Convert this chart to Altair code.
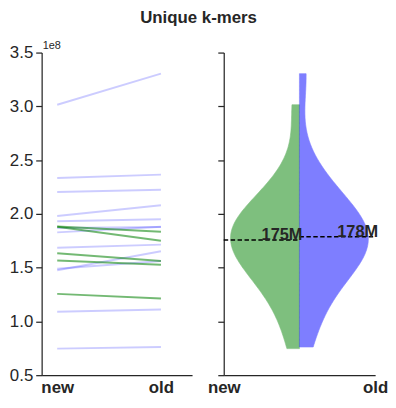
import altair as alt
import numpy as np
import pandas as pd

# Unique k-mers per sample, in millions, for the "new" and "old" runs (paired)
new_m = [301.5, 233.4, 220.3, 198.1, 193.2, 186.8, 182.8, 168.4, 147.5, 149.0,
         109.0, 74.7, 188.3, 188.0, 163.4, 156.7, 125.6]
old_m = [330.4, 236.5, 222.4, 208.0, 195.1, 187.7, 188.0, 171.4, 165.3, 156.1,
         111.0, 76.2, 183.4, 175.1, 156.1, 152.8, 121.3]
groups = ["new", "old"]
y_ticks = [0.5e8, 1.0e8, 1.5e8, 2.0e8, 2.5e8, 3.0e8, 3.5e8]

GREEN = "#008000"
BLUE = "#0000ff"
INK = "#262626"
FONT = "Liberation Sans"

rows = []
for i, (a, b) in enumerate(zip(new_m, old_m)):
    direction = "up" if b >= a else "down"
    rows.append({"id": i, "group": "new", "pos": 0, "value": a * 1e6, "dir": direction})
    rows.append({"id": i, "group": "old", "pos": 1, "value": b * 1e6, "dir": direction})
long_df = pd.DataFrame(rows)

yscale = alt.Scale(domain=[0.5e8, 3.5e8], nice=False, zero=False)
H = 326

# ---------------- left panel: paired slopes ----------------
lines = alt.Chart(long_df).mark_line(strokeWidth=2).encode(
    x=alt.X("pos:Q", scale=alt.Scale(domain=[-0.15, 1.3], nice=False),
            axis=alt.Axis(values=[0, 1], labelExpr="datum.value == 0 ? 'new' : 'old'",
                          title=None, labelFontWeight="bold", labelFontSize=17,
                          labelPadding=4, tickSize=0)),
    y=alt.Y("value:Q", scale=yscale,
            axis=alt.Axis(values=y_ticks, labelExpr="format(datum.value / 1e8, '.1f')",
                          title=None, labelFontSize=17, labelPadding=3)),
    detail="id:N",
    color=alt.Color("dir:N", scale=alt.Scale(domain=["up", "down"], range=[BLUE, GREEN]), legend=None),
    opacity=alt.Opacity("dir:N", scale=alt.Scale(domain=["up", "down"], range=[0.2, 0.55]), legend=None),
)
exp_label = alt.Chart(pd.DataFrame({"t": ["1e8"]})).mark_text(
    align="left", baseline="bottom", fontSize=11, font=FONT, color=INK
).encode(x=alt.value(1), y=alt.value(-2), text="t:N")
left = alt.layer(lines, exp_label).properties(width=152, height=H)

# ---------------- right panel: split violin ----------------
def bandwidth(vals):
    v = np.array(vals) * 1e6
    return float(np.std(v, ddof=1) * len(v) ** (-1 / 5))

xscale_r = alt.Scale(domain=[0, 1], nice=False)
xaxis_r = alt.Axis(values=[0, 1], labelExpr="datum.value == 0 ? 'new' : 'old'", title=None,
                   labelFontWeight="bold", labelFontSize=17, labelPadding=4, tickSize=0,
                   labelOverlap=False, labelBound=False, labelFlush=False)
yaxis_r = alt.Axis(values=y_ticks, labels=False, title=None)

def half_violin(group, vals, color, sign):
    return alt.Chart(long_df).transform_filter(
        alt.datum.group == group
    ).transform_density(
        "value", as_=["value", "density"], bandwidth=bandwidth(vals), steps=200
    ).transform_joinaggregate(
        maxd="max(density)"
    ).transform_calculate(
        xw=f"0.5 {sign} 0.455 * datum.density / datum.maxd", c="0.5"
    ).mark_area(orient="horizontal", color=color, opacity=0.5, stroke=color,
                strokeWidth=1, strokeOpacity=0.6).encode(
        y=alt.Y("value:Q", scale=yscale, axis=yaxis_r),
        x=alt.X("xw:Q", scale=xscale_r, axis=xaxis_r),
        x2="c:Q",
    )

v_new = half_violin("new", new_m, GREEN, "-")
v_old = half_violin("old", old_m, BLUE, "+")

means = alt.Chart(long_df).transform_aggregate(
    m="mean(value)", groupby=["group"]
).transform_calculate(
    x0="datum.group == 'new' ? 0 : 0.5",
    x1="datum.group == 'new' ? 0.5 : 1",
    tx="datum.group == 'new' ? 0.25 : 0.75",
    label="floor(datum.m / 1e6) + 'M'",
)
mean_rule = means.mark_rule(color="black", strokeDash=[4.5, 2.5], strokeWidth=1.5).encode(
    y=alt.Y("m:Q", scale=yscale, axis=yaxis_r),
    x=alt.X("x0:Q", scale=xscale_r, axis=xaxis_r),
    x2="x1:Q",
)
mean_text = means.mark_text(align="left", baseline="alphabetic", fontSize=16.5,
                            fontWeight="bold", font=FONT, color=INK).encode(
    y=alt.Y("m:Q", scale=yscale, axis=yaxis_r),
    x=alt.X("tx:Q", scale=xscale_r, axis=xaxis_r),
    text="label:N",
)
right = alt.layer(v_new, v_old, mean_rule, mean_text).properties(width=153, height=H)

chart = alt.hconcat(left, right, spacing=15).properties(
    title=alt.TitleParams("Unique k-mers", fontSize=17, fontWeight="bold", font=FONT,
                          color=INK, anchor="middle", offset=13),
    padding={"left": 1, "top": -1, "right": 0, "bottom": 0},
).configure_view(stroke=None).configure_axis(
    grid=False, domainColor=INK, tickColor=INK, labelColor=INK, labelFont=FONT,
    domainWidth=1.25, tickWidth=1.25, tickSize=6,
)

chart.save("out.html", embed_options={"renderer": "svg", "actions": False})
